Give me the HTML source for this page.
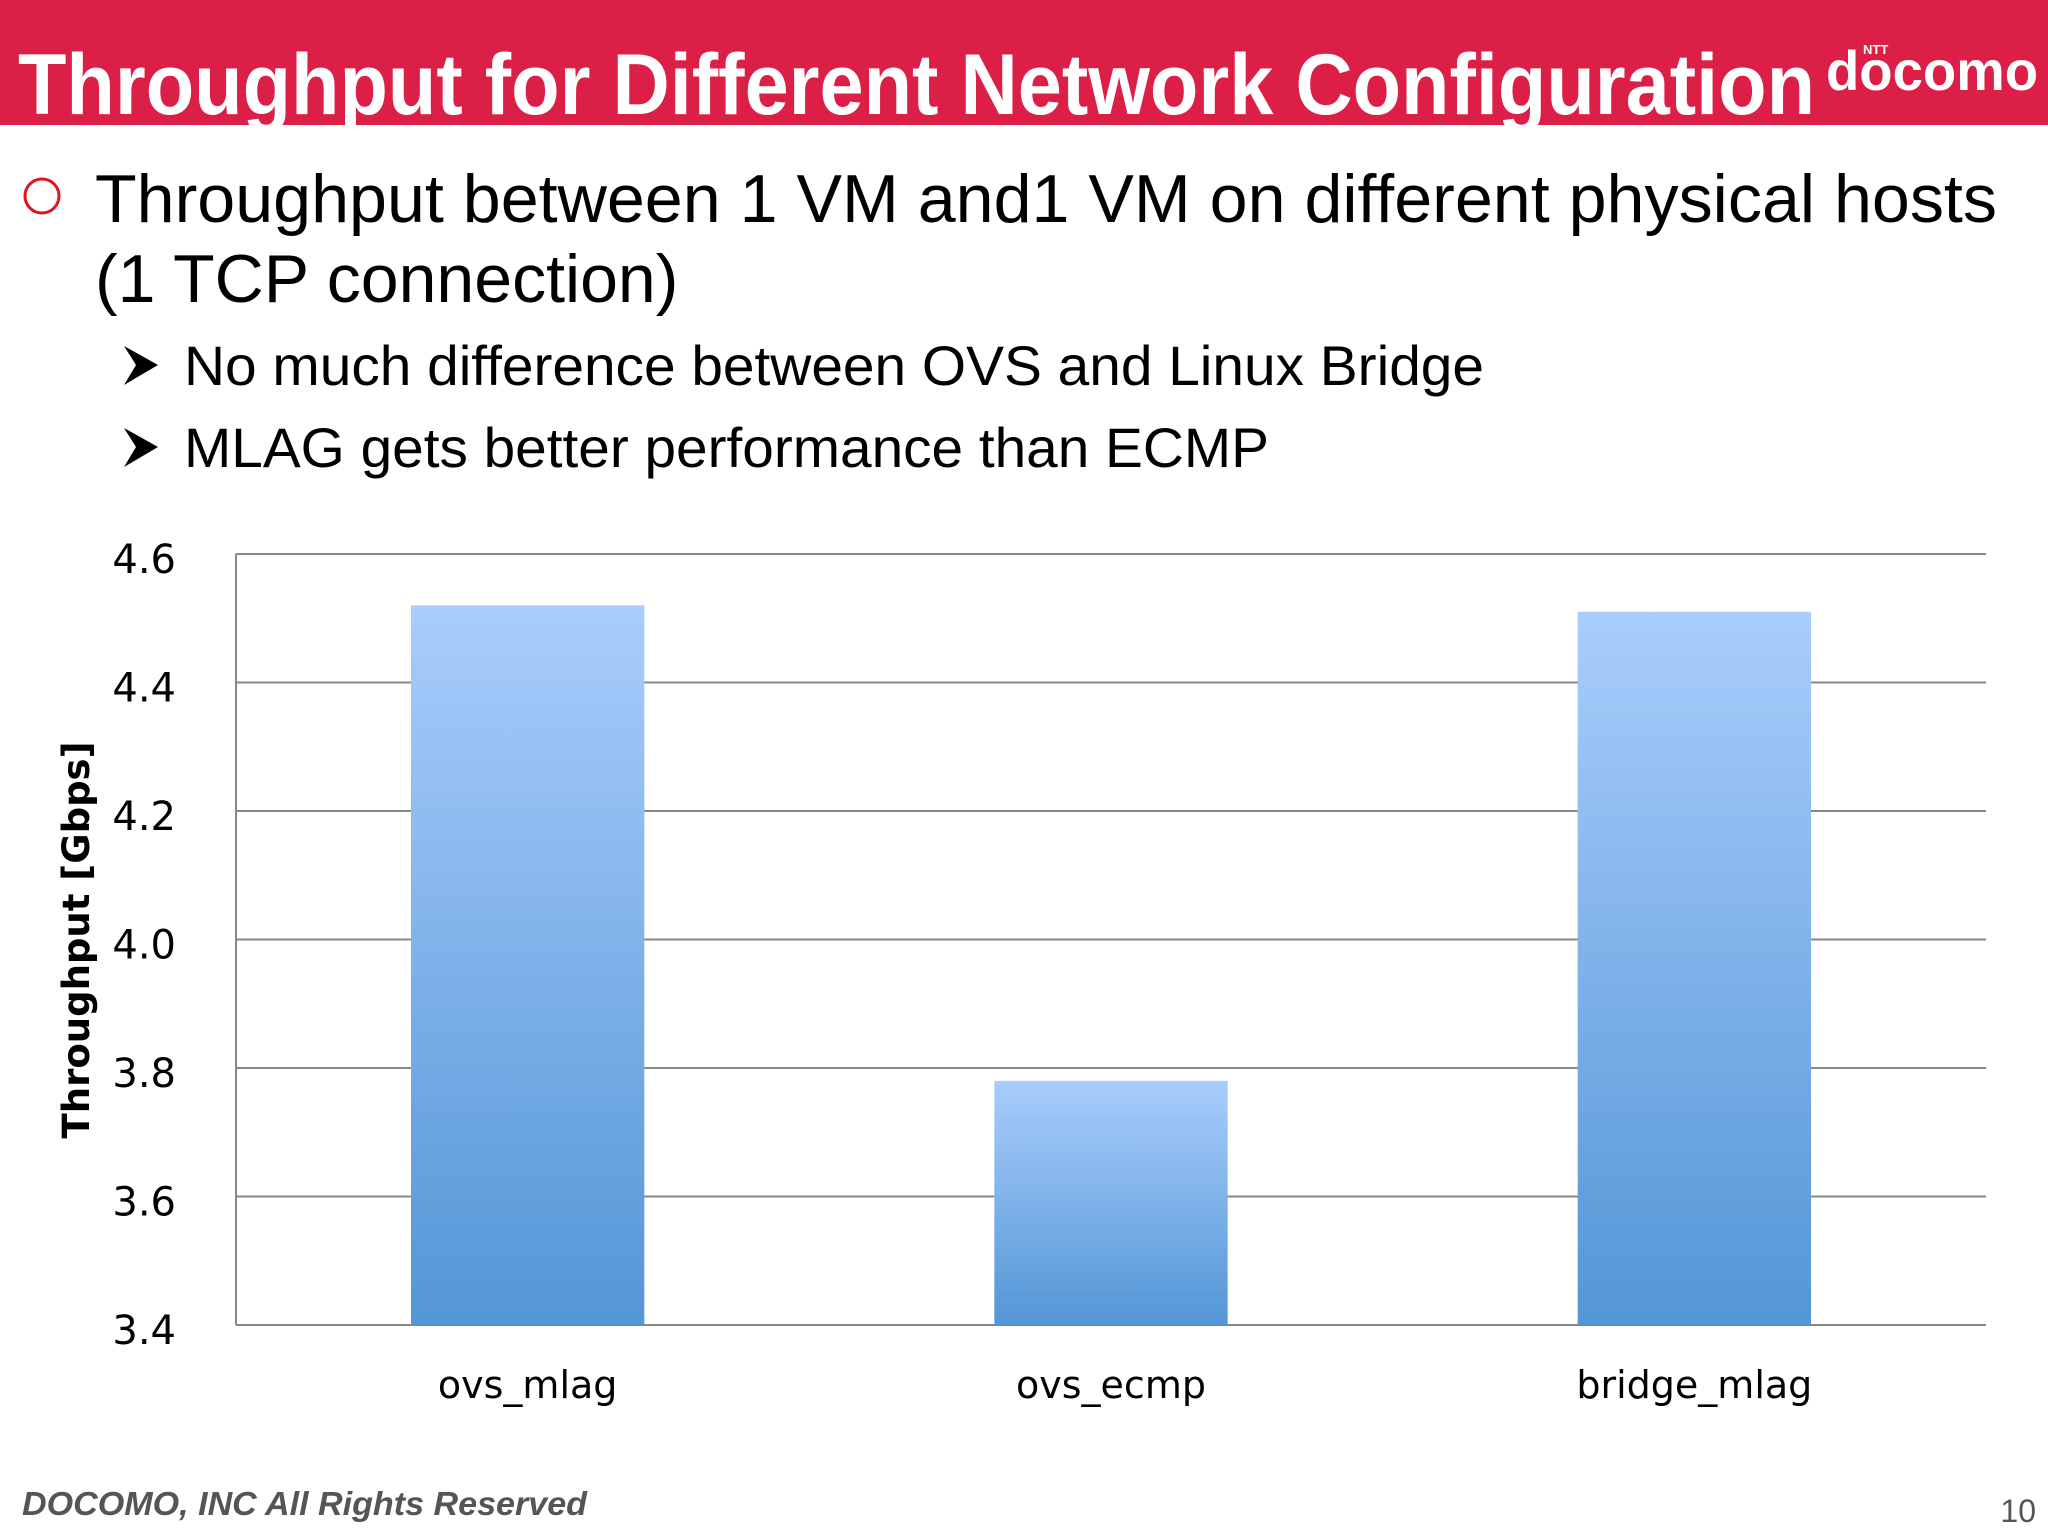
<!DOCTYPE html>
<html><head><meta charset="utf-8"><style>
html,body{margin:0;padding:0;background:#fff;}
svg{display:block;}
</style></head><body>
<svg id="slide" width="2048" height="1536" viewBox="0 0 2048 1536" xmlns="http://www.w3.org/2000/svg" font-family="Liberation Sans, sans-serif">
  <rect x="0" y="0" width="2048" height="125" fill="#dc1f46"/>
  <text x="18" y="114" font-size="86" font-weight="bold" fill="#fff" textLength="1797" lengthAdjust="spacingAndGlyphs">Throughput for Different Network Configuration</text>
  <g fill="#fff">
    <text x="1863" y="54" font-size="13" font-weight="bold">NTT</text>
    <text x="1826" y="90" font-size="56" font-weight="bold" textLength="212" lengthAdjust="spacingAndGlyphs">docomo</text>
  </g>
  <circle cx="42" cy="196" r="17" fill="none" stroke="#e0141e" stroke-width="3"/>
  <text x="95" y="222" font-size="68" fill="#000" textLength="1902" lengthAdjust="spacingAndGlyphs">Throughput between 1 VM and1 VM on different physical hosts</text>
  <text x="95" y="302" font-size="68" fill="#000">(1 TCP connection)</text>
  <path d="M124,346 L158,365 L124,385 L136,365 Z" fill="#000"/>
  <text x="184" y="385" font-size="56" fill="#000" textLength="1300" lengthAdjust="spacingAndGlyphs">No much difference between OVS and Linux Bridge</text>
  <path d="M124,428 L158,447 L124,467 L136,447 Z" fill="#000"/>
  <text x="184" y="467" font-size="56" fill="#000" textLength="1085" lengthAdjust="spacingAndGlyphs">MLAG gets better performance than ECMP</text>
  <defs>
    <linearGradient id="barGrad" x1="0" y1="0" x2="0" y2="1">
      <stop offset="0" stop-color="#a9cdfc"/>
      <stop offset="1" stop-color="#5396d6"/>
    </linearGradient>
  </defs>
  <g id="chart"></g>
  <text transform="translate(89,940) rotate(-90)" text-anchor="middle" font-size="37" font-weight="bold" fill="#000" font-family="DejaVu Sans, sans-serif">Throughput [Gbps]</text>
  <text x="22" y="1515" font-size="33" font-weight="bold" font-style="italic" fill="#555" textLength="565" lengthAdjust="spacingAndGlyphs">DOCOMO, INC All Rights Reserved</text>
  <text x="2036" y="1522" font-size="32" fill="#555" text-anchor="end">10</text>
</svg>
<script>
const categories = ["ovs_mlag", "ovs_ecmp", "bridge_mlag"];
const throughputValues = [4.52, 3.78, 4.51];
const yTicks = [3.4, 3.6, 3.8, 4.0, 4.2, 4.4, 4.6];
const yTickLabels = ["3.4", "3.6", "3.8", "4.0", "4.2", "4.4", "4.6"];

const NS = "http://www.w3.org/2000/svg";
const g = document.getElementById("chart");
const plot = {left: 236, right: 1986, top: 554, bottom: 1325};
const yMin = 3.4, yMax = 4.6;
function yScale(v){ return plot.bottom - (v - yMin) / (yMax - yMin) * (plot.bottom - plot.top); }
const band = (plot.right - plot.left) / categories.length;
function xCenter(i){ return plot.left + band * (i + 0.5); }
const barW = band * 0.4;

yTicks.forEach((t, i) => {
  const y = yScale(t);
  const line = document.createElementNS(NS, "line");
  
  
  line.setAttribute("x1", plot.left); line.setAttribute("x2", plot.right);
  line.setAttribute("y1", y); line.setAttribute("y2", y);
  line.setAttribute("stroke", "#888"); line.setAttribute("stroke-width", "2");
  g.appendChild(line);
  const lab = document.createElementNS(NS, "text");
  
  
  lab.setAttribute("x", 176); lab.setAttribute("y", y + 19);
  lab.setAttribute("text-anchor", "end"); lab.setAttribute("font-size", "40");
  lab.setAttribute("font-family", "DejaVu Sans, sans-serif");
  lab.textContent = yTickLabels[i];
  g.appendChild(lab);
});
const axis = document.createElementNS(NS, "line");


axis.setAttribute("x1", plot.left); axis.setAttribute("x2", plot.left);
axis.setAttribute("y1", plot.top); axis.setAttribute("y2", plot.bottom);
axis.setAttribute("stroke", "#888"); axis.setAttribute("stroke-width", "2");
g.appendChild(axis);

categories.forEach((c, i) => {
  const y = yScale(throughputValues[i]);
  const r = document.createElementNS(NS, "rect");
  
  
  r.setAttribute("x", xCenter(i) - barW / 2); r.setAttribute("y", y);
  r.setAttribute("width", barW); r.setAttribute("height", plot.bottom - y);
  r.setAttribute("fill", "url(#barGrad)");
  g.appendChild(r);
  const lab = document.createElementNS(NS, "text");
  
  
  lab.setAttribute("x", xCenter(i)); lab.setAttribute("y", 1398);
  lab.setAttribute("text-anchor", "middle"); lab.setAttribute("font-size", "38");
  lab.setAttribute("font-family", "DejaVu Sans, sans-serif");
  lab.textContent = c;
  g.appendChild(lab);
});
</script>
</body></html>
